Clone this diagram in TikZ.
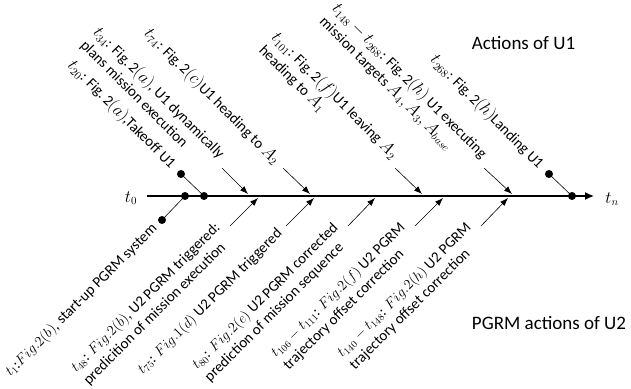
\documentclass[tikz,border=0pt]{standalone}
\usepackage{fontspec}
\setmainfont{Carlito}
\DeclareMathSizes{15}{16}{11}{8}
\DeclareMathSizes{15.01}{14.2}{10}{7.5}
\DeclareMathSizes{16}{16}{11}{8}
\usetikzlibrary{arrows.meta,calc}
\begin{document}
\begin{tikzpicture}[x=1pt,y=-1pt,
  dot/.style={circle,fill=black,inner sep=0pt,minimum size=8pt},
  stem/.style={line width=0.6pt},
  pointer/.style={line width=0.6pt,-{Latex[length=8pt,width=6pt]}},
  axis/.style={line width=1.3pt,-{Latex[length=9pt,width=8pt]}},
  lbl/.style={align=left,inner sep=1pt},
  uplbl/.style={lbl,font=\fontsize{15}{18}\selectfont,rotate=-45,anchor=east},
  lowlbl/.style={lbl,font=\fontsize{15.01}{18}\selectfont,rotate=45,anchor=east},
  title/.style={font=\fontsize{19}{23}\selectfont,anchor=base},
  tlbl/.style={font=\fontsize{16}{19}\selectfont}
]
\useasboundingbox (0,0) rectangle (631,388);
% axis
\coordinate (ax0) at (147,196);
\coordinate (axn) at (594,196);
\draw[axis] (ax0) -- (axn);
\node[tlbl] (t0) at (131,198) {$t_0$};
\node[tlbl] (tn) at (612,199) {$t_n$};
% dots
\node[dot] (a1) at (185,196) {};
\node[dot] (a20) at (204,196) {};
\node[dot] (a268) at (572,196) {};
\node[dot] (d1) at (162,220) {};
\node[dot] (d20) at (181,174) {};
\node[dot] (d268) at (549,174) {};
\draw[stem] (d1) -- (a1);
\draw[stem] (d20) -- (a20);
\draw[stem] (d268) -- (a268);
% upper arrows
\coordinate (u34) at (222,168);  \coordinate (v34) at (248,194);
\coordinate (u74) at (283,168);  \coordinate (v74) at (310,194);
\coordinate (u101) at (395,168); \coordinate (v101) at (422,194);
\coordinate (u148) at (484,168); \coordinate (v148) at (512,194);
\draw[pointer] (u34) -- (v34);
\draw[pointer] (u74) -- (v74);
\draw[pointer] (u101) -- (v101);
\draw[pointer] (u148) -- (v148);
% lower arrows
\coordinate (w48) at (230,226);  \coordinate (z48) at (258,198);
\coordinate (w75) at (286,226);  \coordinate (z75) at (314,198);
\coordinate (w80) at (348,226);  \coordinate (z80) at (375,198);
\coordinate (w106) at (415,226); \coordinate (z106) at (443,198);
\coordinate (w140) at (481,226); \coordinate (z140) at (508,198);
\draw[pointer] (w48) -- (z48);
\draw[pointer] (w75) -- (z75);
\draw[pointer] (w80) -- (z80);
\draw[pointer] (w106) -- (z106);
\draw[pointer] (w140) -- (z140);
% upper labels
\node[uplbl] (l20) at ($(d20)+(-7,-7)$) {$t_{20}$: Fig.\,2$(a)$,Takeoff U1};
\node[uplbl] (l34) at ($(u34)+(-5,-5)$) {$t_{34}$: Fig.\,2$(a)$, U1 dynamically\\plans mission execution};
\node[uplbl] (l74) at ($(u74)+(-5,-5)$) {$t_{74}$: Fig.\,2$(c)$U1 heading to $A_2$};
\node[uplbl] (l101) at ($(u101)+(-5,-5)$) {$t_{101}$: Fig.\,2$(f)$U1 leaving $A_2$\\heading to $A_1$};
\node[uplbl] (l148) at ($(u148)+(-5,-5)$) {$t_{148}-t_{268}$: Fig.\,2$(h)$ U1 executing\\mission targets $A_4, A_3, A_{base}$};
\node[uplbl] (l268) at ($(d268)+(-7,-7)$) {$t_{268}$: Fig.\,2$(h)$Landing U1};
% lower labels
\node[lowlbl] (l1) at ($(d1)+(-6,6)$) {$t_1$:$Fig.2(b)$, start-up PGRM system};
\node[lowlbl] (l48) at ($(w48)+(-5,5)$) {$t_{48}$: $Fig.2(b)$, U2 PGRM triggered:\\predicition of mission execution};
\node[lowlbl] (l75) at ($(w75)+(-5,5)$) {$t_{75}$: $Fig.1(d)$ U2 PGRM triggered};
\node[lowlbl] (l80) at ($(w80)+(-5,5)$) {$t_{80}$: $Fig.2(e)$ U2 PGRM corrected\\prediction of mission sequence};
\node[lowlbl] (l106) at ($(w106)+(-5,5)$) {$t_{106}-t_{111}$: $Fig.2(f)$ U2 PGRM\\trajectory offset correction};
\node[lowlbl] (l140) at ($(w140)+(-5,5)$) {$t_{140}-t_{148}$: $Fig.2(h)$ U2 PGRM\\trajectory offset correction};
% titles
\node[title] (h1) at (523.5,49) {Actions of U1};
\node[title] (h2) at (549,329) {PGRM actions of U2};
\end{tikzpicture}
\end{document}
